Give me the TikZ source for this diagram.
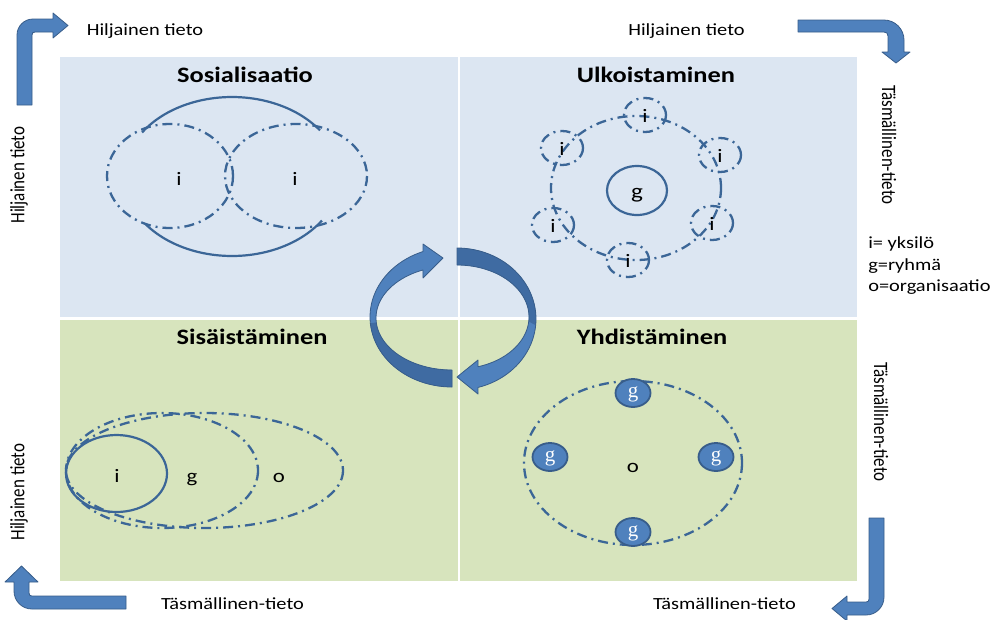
\documentclass[tikz,border=0pt]{standalone}
\usepackage{fontspec}
\setmainfont{Carlito}
\newfontfamily\serifg{Liberation Serif}
\definecolor{lineblue}{HTML}{3B6697}
\definecolor{arrowfill}{HTML}{4F81BD}
\definecolor{arrowedge}{HTML}{385D8A}
\definecolor{arrowdark}{HTML}{3F6BA2}
\definecolor{boxblue}{HTML}{DCE6F2}
\definecolor{boxgreen}{HTML}{D7E4BD}
\begin{document}
\begin{tikzpicture}[x=1pt,y=-1pt,
  lbl/.style={inner sep=0pt, xscale=1.2, font=\fontsize{17}{20}\selectfont},
  ttl/.style={inner sep=0pt, xscale=1.2, anchor=base, font=\fontsize{22}{26}\selectfont\bfseries},
  sym/.style={inner sep=0pt, xscale=1.2, anchor=base, font=\fontsize{19}{22}\selectfont},
  gdisc/.style={draw=arrowedge, fill=arrowfill, line width=1.8pt},
  gsym/.style={inner sep=0pt, anchor=base, text=white, font=\serifg\fontsize{21}{22}\selectfont},
  solidring/.style={draw=lineblue, line width=2.2pt},
  dashring/.style={draw=lineblue, line width=2.3pt, dash pattern=on 10pt off 5pt on 2pt off 5pt},
  barrow/.style={fill=arrowfill, draw=arrowedge, line width=0.8pt, line join=round},
  carrow/.style={draw=arrowedge, line width=0.8pt, line join=round}]

\useasboundingbox[fill=white] (0,0) rectangle (995,619);

% quadrant panels
\fill[boxblue] (60,57) rectangle (457.5,317);
\fill[boxblue] (459.5,57) rectangle (857,317);
\fill[boxgreen] (60,319.5) rectangle (457.5,581);
\fill[boxgreen] (459.5,319.5) rectangle (857,581);

% titles
\node[ttl] (tSos) at (245,82) {Sosialisaatio};
\node[ttl] (tUlk) at (656,82) {Ulkoistaminen};
\node[ttl] (tSis) at (252,344) {Sisäistäminen};
\node[ttl] (tYhd) at (652,344) {Yhdistäminen};

% outer labels
\node[lbl, anchor=base] (lTopL) at (145,35) {Hiljainen tieto};
\node[lbl, anchor=base] (lTopR) at (686.5,35) {Hiljainen tieto};
\node[lbl, anchor=base] (lBotL) at (232.5,609) {Täsmällinen-tieto};
\node[lbl, anchor=base] (lBotR) at (724.5,609) {Täsmällinen-tieto};
\node[lbl, xscale=1, rotate=90] (lLeftU) at (19,175) {Hiljainen tieto};
\node[lbl, xscale=1, rotate=90] (lLeftD) at (19,492) {Hiljainen tieto};
\node[lbl, xscale=1, rotate=-90] (lRightU) at (889,145) {Täsmällinen-tieto};
\node[lbl, xscale=1, rotate=-90] (lRightD) at (881,422) {Täsmällinen-tieto};

% legend
\node[lbl, anchor=base west] (key1) at (868,248) {i= yksilö};
\node[lbl, anchor=base west] (key2) at (868,270) {g=ryhmä};
\node[lbl, anchor=base west] (key3) at (868,291) {o=organisaatio};

% bent arrows in the corners
\draw[barrow] (17,105) -- (17,35) .. controls (17,26.2) and (24.2,19) .. (33,19)
  -- (53,19) -- (53,13) -- (68,25.5) -- (53,38) -- (53,32) -- (35,32)
  .. controls (33,32) and (32,33) .. (32,35) -- (32,105) -- cycle;
\draw[barrow] (798,20) -- (884,20) .. controls (895,20) and (904,29) .. (904,40)
  -- (904,52) -- (910,52) -- (896,63) -- (882,52) -- (888,52) -- (888,36)
  .. controls (888,33.5) and (886.5,32) .. (884,32) -- (798,32) -- cycle;
\draw[barrow] (126,609) -- (32,609) .. controls (22,609) and (14,601) .. (14,591)
  -- (14,582) -- (5,582) -- (21.5,566) -- (38,582) -- (29,582) -- (29,593)
  .. controls (29,595) and (30,596) .. (32,596) -- (126,596) -- cycle;
\draw[barrow] (869,518) -- (884,518) -- (884,597) .. controls (884,607) and (876,615) .. (866,615)
  -- (847,615) -- (847,621) -- (832,608.5) -- (847,596) -- (847,602) -- (866,602)
  .. controls (868,602) and (869,601) .. (869,599) -- cycle;

% central cycle arrows
\fill[arrowfill] plot[domain=90:249.3, samples=50] ({452+82*cos(\x)},{317+70*sin(\x)})
  -- (423,244) -- (443,258) -- (423,278)
  -- plot[domain=247.5:90, samples=50] ({452+76*cos(\x)},{318+52*sin(\x)}) -- cycle;
\fill[arrowdark] plot[domain=90:175, samples=40] ({452+82*cos(\x)},{317+70*sin(\x)})
  -- plot[domain=175:90, samples=40] ({452+76*cos(\x)},{318+52*sin(\x)}) -- cycle;
\draw[carrow] plot[domain=90:249.3, samples=50] ({452+82*cos(\x)},{317+70*sin(\x)})
  -- (423,244) -- (443,258) -- (423,278)
  -- plot[domain=247.5:90, samples=50] ({452+76*cos(\x)},{318+52*sin(\x)}) -- cycle;

\fill[arrowfill] plot[domain=-90:74.6, samples=50] ({457+79*cos(\x)},{319+71*sin(\x)})
  -- (478,394) -- (457,377) -- (478,360)
  -- plot[domain=73:-90, samples=50] ({457+72*cos(\x)},{317+52*sin(\x)}) -- cycle;
\fill[arrowdark] plot[domain=-90:5, samples=40] ({457+79*cos(\x)},{319+71*sin(\x)})
  -- plot[domain=5:-90, samples=40] ({457+72*cos(\x)},{317+52*sin(\x)}) -- cycle;
\draw[carrow] plot[domain=-90:74.6, samples=50] ({457+79*cos(\x)},{319+71*sin(\x)})
  -- (478,394) -- (457,377) -- (478,360)
  -- plot[domain=73:-90, samples=50] ({457+72*cos(\x)},{317+52*sin(\x)}) -- cycle;

% Sosialisaatio: two individuals inside a shared ring
\draw[solidring] plot[domain=213.6:324.6, samples=50] ({232+108*cos(\x)},{176.5+79.5*sin(\x)});
\draw[solidring] plot[domain=33.6:143.7, samples=50] ({232+108*cos(\x)},{176.5+79.5*sin(\x)});
\draw[dashring] (170,176) ellipse [x radius=63, y radius=52];
\draw[dashring] (296,176) ellipse [x radius=71, y radius=52];
\node[sym] (sI1) at (179,185) {i};
\node[sym] (sI2) at (295,185) {i};

% Ulkoistaminen: group surrounded by individuals
\draw[dashring] (636,188) ellipse [x radius=85, y radius=72];
\draw[solidring] (637,190.5) ellipse [x radius=30, y radius=24.5];
\node[sym, font=\fontsize{21}{24}\selectfont] (uG) at (637,198) {g};
\foreach \cx/\cy/\nm in {645/115/u1, 562/148/u2, 720/155/u3, 553/225/u4, 712/223/u5, 628/260/u6}{
  \draw[dashring] (\cx,\cy) ellipse [x radius=21, y radius=17];
  \node[sym] (\nm) at (\cx,\cy+7) {i};
}

% Sisäistäminen: nested individual, group, organisation
\draw[dashring] (204.5,470.5) ellipse [x radius=138.5, y radius=57.5];
\draw[dashring] (162,470.5) ellipse [x radius=96, y radius=57.5];
\draw[solidring] (116.5,473.5) ellipse [x radius=50.5, y radius=38.5];
\node[sym] (iI) at (117,482) {i};
\node[sym] (iG) at (192,482) {g};
\node[sym] (iO) at (279,482) {o};

% Yhdistäminen: groups on an organisation ring
\draw[dashring] (633,463) ellipse [x radius=109, y radius=82];
\node[sym] (yO) at (633,472) {o};
\foreach \cx/\cy/\nm in {633/393/y1, 550/457/y2, 716/457/y3, 633/532/y4}{
  \draw[gdisc] (\cx,\cy) ellipse [x radius=17.5, y radius=14];
  \node[gsym] (\nm) at (\cx,\cy+4.5) {g};
}

\end{tikzpicture}
\end{document}
